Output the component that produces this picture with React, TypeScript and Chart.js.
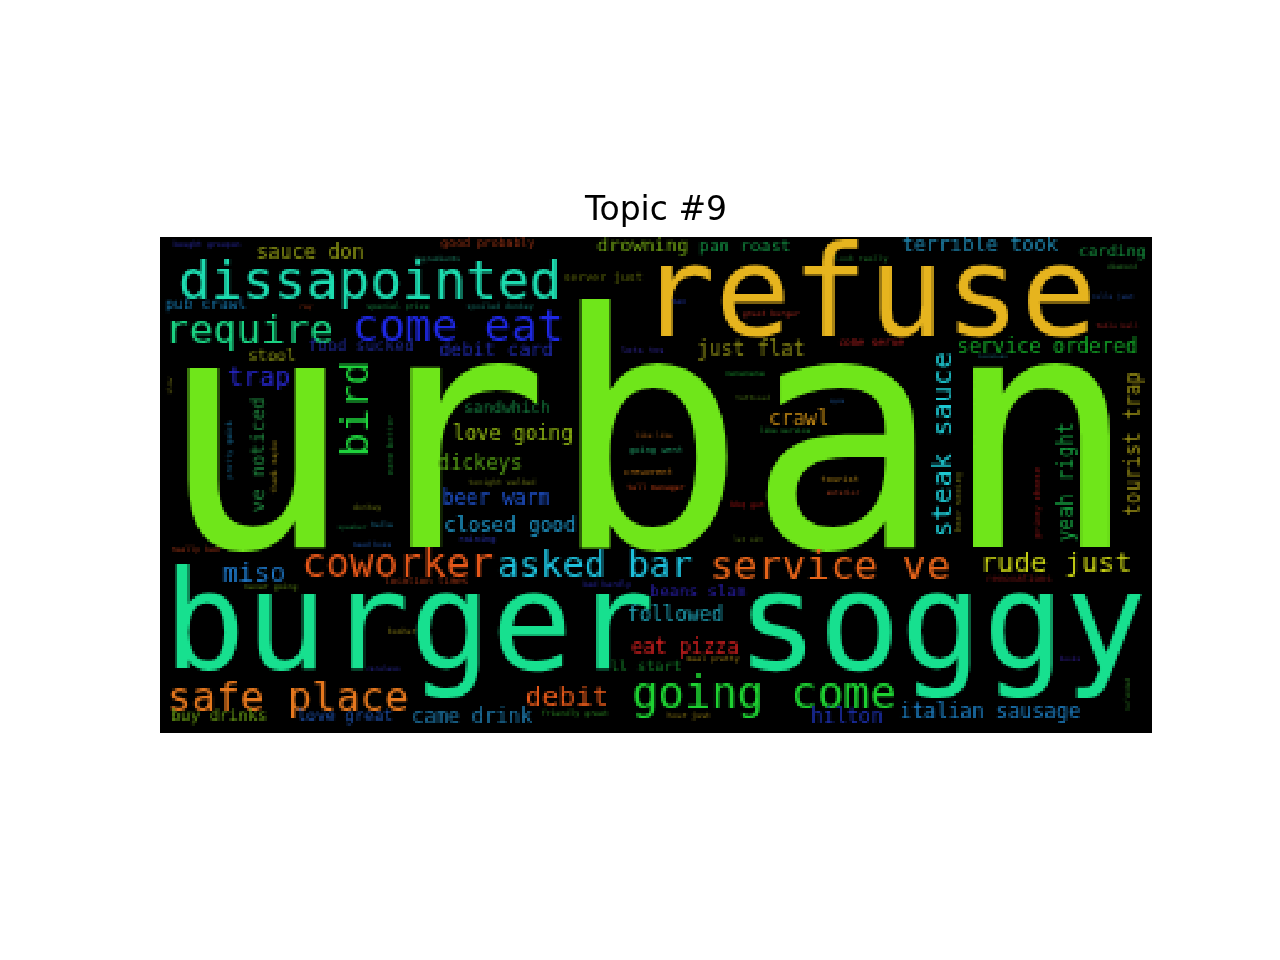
import { useEffect, useRef } from "react";
import { Chart, registerables, type ChartConfiguration, type Plugin } from "chart.js";

Chart.register(...registerables);

// word cloud is rendered on a coarse grid (like the python wordcloud 400x200 image) then blown up
const GRID_W = 400;
const GRID_H = 200;
const AXIS_W = 992;
const AXIS_H = 496;

const TITLE = "Topic #9";

const WORDS = [
  "urban", "refuse", "burger soggy", "dissapointed", "require", "come eat", "coworker", "asked bar",
  "service ve", "safe place", "going come", "bird", "steak sauce", "rude just", "miso", "trap",
  "debit", "sauce don", "drowning", "pan roast", "terrible took", "carding", "just flat", "service ordered",
  "debit card", "food sucked", "pub crawl", "stool", "ve noticed", "sandwhich", "love going", "dickeys",
  "beer warm", "closed good", "crawl", "yeah right", "tourist trap", "beans slam", "followed", "eat pizza",
  "ll start", "hilton", "italian sausage", "buy drinks", "love great", "came drink", "good probably", "server just",
  "come serve", "lots tvs", "location times", "renovations", "bought groupon", "ingredients", "special prize", "spoiled donkey",
  "ray", "look really", "tan", "great burger", "diamond", "rolls just", "table ball", "location",
  "nananana", "tattooed", "ayce", "like service", "like like", "going went", "creuvrent", "tell manager",
  "bbq got", "tourist", "exterior", "let sit", "hear seeing", "pricey cheese", "pretty quick", "thank maybe",
  "name better", "slow", "tonight walked", "raining", "donkey", "speaker", "hella", "need boss",
  "really bad", "never going", "bad hardly", "meal pretty", "friendly great", "hour just", "kosher", "careless",
  "books", "refunded",
];

// centre of each word along its reading direction
const WORD_X = [
  488, 708, 495, 210, 89, 298, 238, 435,
  670, 128, 604, 208, 790, 896, 94, 99,
  407, 150, 483, 585, 820, 952, 591, 887,
  336, 201, 46, 112, 105, 347, 353, 320,
  336, 350, 639, 913, 980, 538, 515, 525,
  486, 687, 830, 59, 185, 312, 328, 443,
  711, 483, 266, 859, 47, 277, 238, 340,
  146, 701, 519, 611, 962, 953, 957, 833,
  585, 593, 677, 625, 494, 496, 488, 496,
  588, 680, 683, 588, 802, 880, 73, 117,
  232, 12, 342, 317, 207, 192, 222, 212,
  35, 111, 447, 553, 415, 529, 242, 223,
  910, 970,
];

// baseline (horizontal words) or centre (vertical words)
const WORD_Y = [
  310, 99, 431, 61, 106, 103, 340, 340,
  343, 473, 470, 172, 208, 336, 345, 150,
  468, 22, 16, 14, 16, 19, 119, 117,
  118, 115, 71, 123, 218, 175, 203, 233,
  267, 294, 188, 245, 207, 359, 385, 416,
  435, 485, 481, 484, 484, 485, 10, 44,
  110, 116, 346, 344, 11, 24, 71, 71,
  71, 24, 68, 79, 31, 62, 91, 121,
  138, 163, 165, 195, 200, 216, 239, 254,
  270, 245, 257, 306, 265, 266, 213, 230,
  208, 149, 247, 305, 273, 292, 290, 310,
  316, 353, 349, 424, 479, 481, 398, 435,
  424, 458,
];

const WORD_SIZE = [
  326, 127, 136, 53, 40, 44, 40, 36,
  40, 40, 44, 40, 28, 28, 26, 26,
  28, 20, 19, 17, 20, 16, 20, 20,
  19, 16, 15, 16, 19, 16, 20, 20,
  20, 20, 20, 20, 20, 16, 20, 20,
  15, 20, 20, 16, 16, 20, 12, 12,
  11, 9, 10, 10, 8, 7, 8, 8,
  7, 8, 8, 8, 7, 7, 7, 6,
  8, 7, 6, 7, 7, 9, 9, 8,
  8, 9, 7, 7, 9, 9, 8, 8,
  9, 7, 8, 9, 8, 7, 7, 7,
  8, 8, 8, 8, 8, 8, 8, 7,
  7, 7,
];

const VERTICAL_WORDS = [
  "bird", "steak sauce", "ve noticed", "yeah right", "tourist trap", "hear seeing", "pricey cheese",
  "pretty quick", "thank maybe", "name better", "slow", "refunded",
];

const WORD_COLORS = [
  "#6fe61a", "#e6b41e", "#17e08f", "#1ddcb0", "#1ad282", "#1e28e6", "#e6581a", "#1ec0dc",
  "#e6641a", "#e6781e", "#1ed232", "#1ed23c", "#1ec8d2", "#c8d214", "#1e78c8", "#2828d2",
  "#e65a1a", "#8c9614", "#6ea014", "#149646", "#1e82aa", "#148c3c", "#828214", "#14aa28",
  "#1e28aa", "#1e2896", "#146ea0", "#828c14", "#1e823c", "#14783c", "#96be14", "#509614",
  "#1e50c8", "#1e96c8", "#c88c14", "#14963c", "#968c14", "#281eaa", "#1ea0b4", "#c81e1e",
  "#147828", "#1e32b4", "#1e82c8", "#649614", "#1e50aa", "#1e78aa", "#963214", "#5a640a",
  "#aa1e1e", "#3228a0", "#963214", "#781414", "#2828a0", "#1e8c6e", "#14783c", "#146e64",
  "#963214", "#1e6e28", "#1e32a0", "#a0281e", "#287828", "#1e4696", "#961e1e", "#1e788c",
  "#148228", "#466e14", "#1e5aa0", "#1e8c32", "#965014", "#1e9664", "#b46e14", "#b43c14",
  "#a01414", "#a07814", "#a03c1e", "#506e14", "#6e6e14", "#8c1414", "#14648c", "#8c7814",
  "#146e28", "#6e6e14", "#646e14", "#2832aa", "#646e14", "#14783c", "#1e82aa", "#1e50a0",
  "#963214", "#5a8214", "#2828aa", "#967814", "#288220", "#8c7814", "#827814", "#282896",
  "#321e96", "#286e1e",
];

const cloudPlugin: Plugin<"scatter"> = {
  id: "wordCloud",
  afterDatasetsDraw(chart) {
    const { ctx, chartArea: a, scales } = chart;
    const w = a.right - a.left;
    const h = a.bottom - a.top;
    const kx = GRID_W / w;
    const ky = GRID_H / h;

    const off = document.createElement("canvas");
    off.width = GRID_W;
    off.height = GRID_H;
    const o = off.getContext("2d");
    if (!o) return;
    o.fillStyle = "#000";
    o.fillRect(0, 0, GRID_W, GRID_H);
    o.textAlign = "center";
    o.textBaseline = "alphabetic";

    const pts = chart.data.datasets[0].data as { x: number; y: number }[];
    WORDS.forEach((word, i) => {
      const px = (scales.x.getPixelForValue(pts[i].x) - a.left) * kx;
      const py = (scales.y.getPixelForValue(pts[i].y) - a.top) * ky;
      o.save();
      o.translate(px, py);
      if (VERTICAL_WORDS.includes(word)) o.rotate(-Math.PI / 2);
      o.font = `${WORD_SIZE[i] * kx}px "DejaVu Sans Mono"`;
      o.fillStyle = WORD_COLORS[i];
      o.fillText(word, 0, 0);
      o.restore();
    });

    ctx.save();
    ctx.imageSmoothingEnabled = false;
    ctx.drawImage(off, a.left, a.top, w, h);
    ctx.restore();
  },
};

export default function App() {
  const canvasRef = useRef<HTMLCanvasElement>(null);
  const chartRef = useRef<Chart<"scatter"> | null>(null);

  useEffect(() => {
    const canvas = canvasRef.current;
    if (!canvas) return;
    chartRef.current?.destroy();

    const config: ChartConfiguration<"scatter"> = {
      type: "scatter",
      data: {
        datasets: [
          {
            label: TITLE,
            data: WORDS.map((_, i) => ({ x: WORD_X[i], y: WORD_Y[i] })),
            pointRadius: 0,
            pointHoverRadius: 0,
          },
        ],
      },
      options: {
        responsive: true,
        maintainAspectRatio: false,
        animation: false,
        events: [],
        layout: { padding: { top: 192, left: 160, right: 128, bottom: 227 } },
        plugins: {
          legend: { display: false },
          tooltip: { enabled: false },
          title: {
            display: true,
            text: TITLE,
            color: "#000",
            font: { family: "DejaVu Sans", size: 33, weight: "normal" },
            padding: { top: 0, bottom: 5 },
          },
        },
        scales: {
          x: { type: "linear", display: false, min: 0, max: AXIS_W },
          y: { type: "linear", display: false, min: 0, max: AXIS_H, reverse: true },
        },
      },
      plugins: [cloudPlugin],
    };

    chartRef.current = new Chart(canvas, config);
    return () => chartRef.current?.destroy();
  }, []);

  return (
    <div style={{ position: "absolute", left: 0, top: 0, width: 1280, height: 960, background: "#fff" }}>
      <canvas ref={canvasRef} />
    </div>
  );
}
